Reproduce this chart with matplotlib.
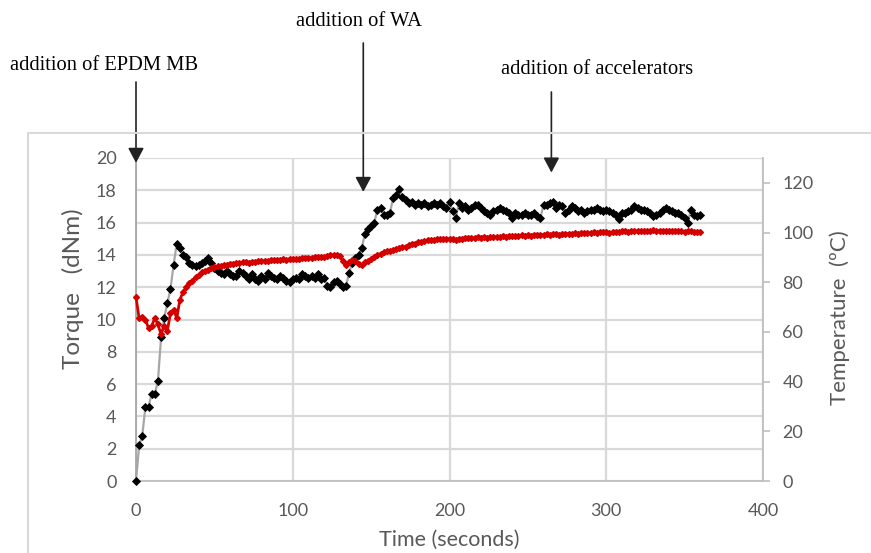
import matplotlib
matplotlib.use("Agg")
import matplotlib.pyplot as plt
import numpy as np
from matplotlib.patches import Rectangle

# ---------------- data ----------------
time_s = np.arange(0, 362, 2)  # sampling every 2 s, 0..360

torque_dNm = [
    0.0, 2.2, 2.8, 4.6, 4.6, 5.4, 5.4, 6.2, 8.9, 10.1,
    11.0, 11.9, 13.4, 14.7, 14.4, 14.0, 13.9, 13.5, 13.4, 13.3,
    13.4, 13.5, 13.6, 13.8, 13.5, 13.2, 13.0, 12.9, 12.8, 13.0,
    12.8, 12.7, 12.7, 13.0, 12.9, 12.7, 12.5, 12.8, 12.5, 12.4,
    12.7, 12.5, 12.9, 12.7, 12.6, 12.5, 12.7, 12.6, 12.4, 12.3,
    12.5, 12.6, 12.5, 12.8, 12.7, 12.6, 12.7, 12.6, 12.8, 12.5,
    12.6, 12.1, 12.0, 12.3, 12.4, 12.2, 12.0, 12.1, 12.9, 13.5,
    13.8, 14.0, 14.4, 15.3, 15.6, 15.8, 16.0, 16.8, 16.9, 16.5,
    16.5, 16.6, 17.5, 17.7, 18.1, 17.6, 17.4, 17.2, 17.3, 17.1,
    17.2, 17.1, 17.2, 17.0, 17.1, 17.2, 17.1, 17.2, 17.0, 16.9,
    17.3, 16.7, 16.3, 17.2, 16.9, 17.0, 16.8, 16.9, 17.1, 17.1,
    16.9, 16.7, 16.6, 16.5, 16.7, 16.8, 16.9, 16.8, 16.7, 16.6,
    16.3, 16.6, 16.5, 16.5, 16.6, 16.5, 16.5, 16.6, 16.4, 16.3,
    17.1, 17.1, 17.2, 17.3, 16.9, 17.1, 17.0, 16.6, 16.8, 17.0,
    16.9, 16.7, 16.8, 16.6, 16.7, 16.8, 16.8, 16.9, 16.8, 16.7,
    16.8, 16.7, 16.6, 16.5, 16.2, 16.6, 16.6, 16.7, 16.8, 17.0,
    16.9, 16.8, 16.8, 16.7, 16.6, 16.4, 16.5, 16.6, 16.8, 16.9,
    16.8, 16.7, 16.6, 16.6, 16.5, 16.3, 16.0, 16.8, 16.5, 16.4,
    16.5,
]

temperature_C = [
    74.0, 65.5, 66.0, 65.0, 61.5, 62.5, 65.5, 63.0, 59.0, 62.5,
    60.5, 67.5, 69.0, 65.5, 73.0, 76.0, 78.0, 79.5, 80.5, 82.0,
    83.0, 84.0, 84.5, 85.0, 85.8, 86.0, 86.5, 86.4, 87.0, 87.0,
    87.5, 87.3, 87.8, 87.6, 88.0, 88.2, 87.9, 88.3, 88.1, 88.5,
    88.4, 88.7, 88.5, 88.9, 88.8, 89.0, 88.9, 89.2, 89.1, 89.4,
    89.3, 89.5, 89.4, 89.7, 89.6, 89.9, 89.8, 90.1, 90.0, 90.3,
    90.2, 90.6, 90.8, 91.0, 90.9, 90.5, 88.5, 86.8, 88.2, 89.0,
    88.5, 87.2, 87.0, 88.0, 88.6, 89.4, 90.0, 91.0, 91.5, 92.0,
    92.4, 92.6, 93.0, 93.2, 93.6, 94.0, 94.3, 94.8, 95.3, 95.5,
    96.0, 96.2, 96.5, 97.0, 96.9, 97.1, 97.3, 97.2, 97.6, 97.4,
    97.6, 97.5, 97.0, 97.3, 97.6, 97.8, 97.7, 98.0, 97.9, 98.1,
    98.0, 98.2, 98.0, 98.3, 98.1, 98.4, 98.2, 98.5, 98.4, 98.6,
    98.5, 98.8, 98.6, 98.9, 98.7, 99.0, 98.8, 99.1, 98.9, 99.2,
    99.0, 99.3, 99.2, 99.4, 99.3, 99.2, 99.5, 99.4, 99.6, 99.5,
    99.7, 99.6, 99.8, 99.7, 100.0, 99.8, 100.1, 100.0, 100.2, 100.1,
    100.3, 100.0, 100.2, 100.4, 100.3, 100.5, 100.7, 100.4, 100.6, 100.5,
    100.7, 100.5, 100.8, 100.6, 100.7, 100.9, 100.6, 100.8, 100.7, 100.5,
    100.8, 100.6, 100.7, 100.5, 100.6, 100.4, 100.6, 100.5, 100.3, 100.4,
    100.3,
]

event_times = [0, 145, 265]
event_labels = ["addition of EPDM MB", "addition of WA", "addition of accelerators"]

x_ticks = [0, 100, 200, 300, 400]
torque_ticks = list(range(0, 21, 2))
temp_ticks = list(range(0, 121, 20))

# ---------------- figure ----------------
W, H = 871, 553
fig = plt.figure(figsize=(W / 100, H / 100), dpi=100)
fig.patch.set_facecolor("white")

def fx(px):
    return px / W

def fy(py):
    return 1 - py / H

# outer chart border (Excel chart area)
fig.patches.append(Rectangle((fx(28), fy(560)), fx(900) - fx(28), fy(133) - fy(560),
                             transform=fig.transFigure, fill=False,
                             edgecolor="#d9d9d9", lw=1.5, zorder=0))

left, right, top, bottom = 136, 763, 158, 481
ax = fig.add_axes([fx(left), fy(bottom), fx(right) - fx(left), fy(top) - fy(bottom)])
ax2 = ax.twinx()

tick_font = "Lato"
gray_txt = "#595959"

# left axis
ax.set_xlim(0, 400)
ax.set_ylim(0, 20)
ax.set_xticks(x_ticks)
ax.set_yticks(torque_ticks)
ax.grid(True, color="#d9d9d9", lw=1.6)
ax.set_axisbelow(True)
for s in ["top", "right"]:
    ax.spines[s].set_visible(False)
ax.spines["left"].set_color("#a6a6a6")
ax.spines["left"].set_linewidth(1.3)
ax.spines["bottom"].set_color("#bfbfbf")
ax.spines["bottom"].set_linewidth(1.3)
ax.tick_params(axis="y", length=0, pad=14, labelsize=13, labelcolor=gray_txt)
ax.tick_params(axis="x", length=0, pad=16, labelsize=13, labelcolor=gray_txt)
for lab in ax.get_xticklabels() + ax.get_yticklabels():
    lab.set_fontfamily(tick_font)

# right axis
ax2.set_ylim(0, 130)
ax2.set_yticks(temp_ticks)
for s in ["top", "left", "bottom"]:
    ax2.spines[s].set_visible(False)
ax2.spines["right"].set_color("#bfbfbf")
ax2.spines["right"].set_linewidth(1.3)
ax2.tick_params(axis="y", length=5, width=1.2, color="#bfbfbf", pad=9,
                labelsize=13, labelcolor=gray_txt)
for lab in ax2.get_yticklabels():
    lab.set_fontfamily(tick_font)

# series
ax.plot(time_s, torque_dNm, color="#a6a6a6", lw=1.6, marker="D", markersize=3.6,
        markerfacecolor="black", markeredgecolor="black", markeredgewidth=0.6,
        zorder=3, clip_on=False)
ax2.plot(time_s, temperature_C, color="#d40000", lw=2.0, marker="D", markersize=3.0,
         markerfacecolor="#d40000", markeredgecolor="#d40000", zorder=3, clip_on=False)

# axis labels
fig.text(fx(73), fy(289), "Torque   (dNm)", rotation=90, ha="center", va="center",
         fontsize=17.5, color=gray_txt, family=tick_font)
fig.text(fx(840), fy(318), "Temperature  (ºC)", rotation=90, ha="center", va="center",
         fontsize=16, color=gray_txt, family=tick_font)
fig.text(fx(449), fy(540), "Time (seconds)", ha="center", va="center",
         fontsize=15.5, color=gray_txt, family=tick_font)

# annotations
tip_y = [19.7, 17.9, 19.1]          # torque units at arrow tip
tail_py = [82, 43, 92]              # figure pixels from top
text_pos = [(10, 65), (296, 22), (501, 70)]
for t, lab, ty, tp, (tx, tyy) in zip(event_times, event_labels, tip_y, tail_py, text_pos):
    ax.annotate("", xy=(t, ty), xycoords="data",
                xytext=(t, H - tp), textcoords=("data", "figure pixels"),
                arrowprops=dict(arrowstyle="-|>,head_length=0.45,head_width=0.24",
                                mutation_scale=20, lw=1.2, color="#222222",
                                shrinkA=0, shrinkB=0),
                annotation_clip=False, zorder=10)
    fig.text(fx(tx), fy(tyy), lab, ha="left", va="center", fontsize=14.8,
             family="Liberation Serif", color="black")

fig.savefig("out.png", dpi=100, facecolor="white")
